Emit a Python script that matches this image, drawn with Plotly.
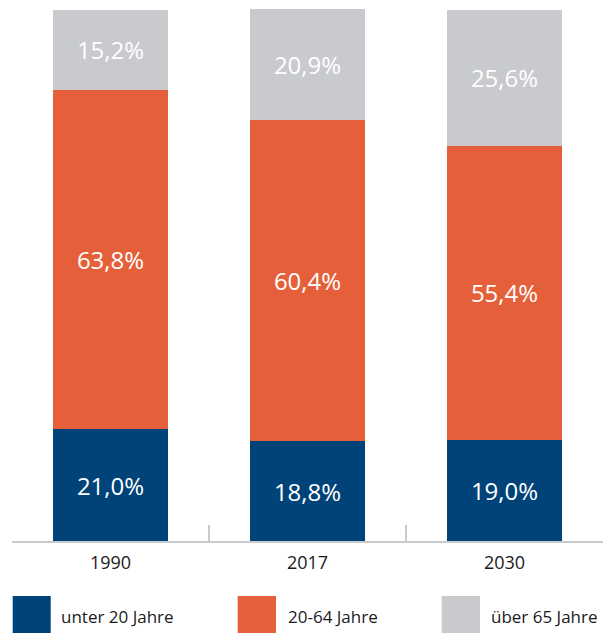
import plotly.graph_objects as go

years = ["1990", "2017", "2030"]
series_names = ["unter 20 Jahre", "20-64 Jahre", "über 65 Jahre"]
unter20 = [21.0, 18.8, 19.0]
mitte = [63.8, 60.4, 55.4]
ueber65 = [15.2, 20.9, 25.6]
values = [unter20, mitte, ueber65]
colors = ["#004379", "#e5603a", "#c8cacd"]

W, H = 610, 633
ML, MR, MT, MB = 12, 7, 9, 92
PW, PH = W - ML - MR, H - MT - MB

def fmt(v):
    return f"{v:.1f}".replace(".", ",") + "%"

fig = go.Figure()
for name, vals, col in zip(series_names, values, colors):
    fig.add_trace(go.Bar(
        x=years, y=vals, name=name, marker=dict(color=col, line=dict(width=0)),
        text=[fmt(v) for v in vals], textposition="inside", insidetextanchor="middle",
        textfont=dict(color="white", size=24, family="Open Sans"),
        hoverinfo="skip", showlegend=False,
    ))

def px_x(p):
    return (p - ML) / PW

def px_y(p):
    return (H - MB - p) / PH

legend_sq = [(12.7, 50.7), (237.7, 276), (441.7, 480)]
legend_tx = [59, 286, 489]
shapes = []
annotations = []
for (x0, x1), tx, name, col in zip(legend_sq, legend_tx, series_names, colors):
    shapes.append(dict(type="rect", xref="paper", yref="paper",
                       x0=px_x(x0), x1=px_x(x1), y0=px_y(633), y1=px_y(596),
                       fillcolor=col, line=dict(width=0)))
    annotations.append(dict(text=name, xref="paper", yref="paper", x=px_x(tx), y=px_y(616),
                            xanchor="left", yanchor="middle", showarrow=False,
                            font=dict(size=17, color="#1a1a1a", family="Open Sans")))

fig.update_layout(
    barmode="stack", bargap=0.42,
    width=W, height=H, margin=dict(l=ML, r=MR, t=MT, b=MB),
    plot_bgcolor="white", paper_bgcolor="white",
    shapes=shapes, annotations=annotations,
    xaxis=dict(type="category", range=[-0.5, 2.5], showline=True, linecolor="#c8cacd",
               linewidth=2, ticks="inside", ticklen=16, tickwidth=2, tickcolor="#c8cacd",
               tickson="boundaries", showgrid=False, zeroline=False, ticklabelstandoff=4,
               tickfont=dict(size=18, color="#1a1a1a", family="Open Sans"), fixedrange=True),
    yaxis=dict(range=[0, 100.1], visible=False, showgrid=False, zeroline=False, fixedrange=True),
)

fig.write_html("out.html", config={"displayModeBar": False},
               post_script="document.body.style.margin='0';document.body.style.overflow='hidden';")
